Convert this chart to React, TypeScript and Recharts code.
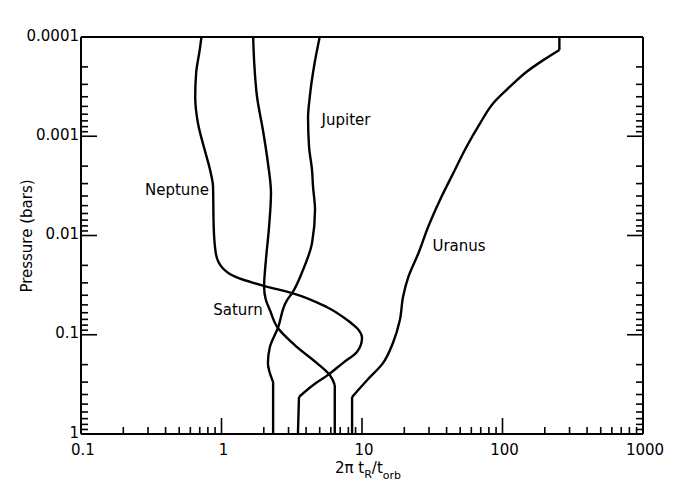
import React from 'react';
import { ScatterChart, Scatter, XAxis, YAxis } from 'recharts';

// [2π tR/torb, pressure in bars], read top (low pressure) to bottom
const neptune: [number, number][] = [
  [0.72, 1e-4], [0.7, 1.35e-4], [0.66, 2.3e-4], [0.65, 4.0e-4], [0.68, 7.4e-4],
  [0.76, 1.38e-3], [0.83, 2.2e-3], [0.87, 3.2e-3], [0.88, 8.2e-3], [0.91, 0.015],
  [1.01, 0.021], [1.25, 0.026], [1.97, 0.032], [3.18, 0.038], [5.6, 0.0525],
  [8.2, 0.0745], [9.2, 0.0855], [10.0, 0.108], [9.8, 0.127], [9.2, 0.149],
  [7.3, 0.193], [5.7, 0.255], [4.5, 0.321], [3.56, 0.424], [3.5, 1],
];

const saturn: [number, number][] = [
  [1.68, 1e-4], [1.71, 1.83e-4], [1.79, 4.0e-4], [1.97, 8.6e-4], [2.14, 1.86e-3],
  [2.25, 3.7e-3], [2.18, 8.2e-3], [2.07, 0.0177], [2.01, 0.033], [2.07, 0.0447],
  [2.21, 0.0564], [2.52, 0.0856], [3.45, 0.133], [4.78, 0.193], [5.9, 0.255],
  [6.4, 0.321], [6.4, 1],
];

const jupiter: [number, number][] = [
  [5.0, 1e-4], [4.6, 1.83e-4], [4.25, 4.0e-4], [4.13, 6.5e-4], [4.2, 1.28e-3],
  [4.41, 2.2e-3], [4.48, 3.2e-3], [4.63, 5.5e-3], [4.41, 0.0119], [3.8, 0.0223],
  [3.18, 0.038], [2.93, 0.0447], [2.52, 0.0856], [2.21, 0.133], [2.14, 0.193],
  [2.33, 0.3], [2.33, 1],
];

const uranus: [number, number][] = [
  [254, 1e-4], [254, 1.35e-4], [195, 1.71e-4], [148.6, 2.24e-4], [113, 3.17e-4],
  [85.9, 4.65e-4], [69.2, 7.41e-4], [55.6, 1.27e-3], [44.6, 2.36e-3], [35.9, 4.38e-3],
  [29.6, 8.15e-3], [25.2, 0.0151], [21.4, 0.026], [19.6, 0.0414], [18.6, 0.071],
  [16.6, 0.121], [14.1, 0.193], [10.9, 0.286], [8.5, 0.424], [8.5, 1],
];

const xDecades = [0.1, 1, 10, 100, 1000];
const yDecades = [0.0001, 0.001, 0.01, 0.1, 1];

const withMinor = (decades: number[]) => {
  const out: number[] = [];
  decades.forEach((d, i) => {
    out.push(d);
    if (i < decades.length - 1) {
      for (let m = 2; m <= 9; m++) out.push(+(d * m).toPrecision(6));
    }
  });
  return out;
};

const xTicks = withMinor(xDecades);
const yTicks = withMinor(yDecades);

const isMajor = (v: number) => {
  const l = Math.log10(v);
  return Math.abs(l - Math.round(l)) < 1e-6;
};

const FONT = '"DejaVu Sans", sans-serif';
const MAJOR = 16;
const MINOR = 7;

const BottomTick = ({ x, y, payload }: any) => {
  const major = isMajor(payload.value);
  return (
    <g>
      <line x1={x} x2={x} y1={y} y2={y - (major ? MAJOR : MINOR)} stroke="#000" strokeWidth={1.6} />
      {major && (
        <text x={x + 2} y={y + 21} textAnchor="middle" fontSize={15} fontFamily={FONT} fill="#000">
          {String(payload.value)}
        </text>
      )}
    </g>
  );
};

const TopTick = ({ x, y, payload }: any) => {
  const major = isMajor(payload.value);
  return <line x1={x} x2={x} y1={y} y2={y + (major ? MAJOR : MINOR)} stroke="#000" strokeWidth={1.6} />;
};

const LeftTick = ({ x, y, payload }: any) => {
  const major = isMajor(payload.value);
  return (
    <g>
      <line x1={x} x2={x + (major ? MAJOR : MINOR)} y1={y} y2={y} stroke="#000" strokeWidth={1.6} />
      {major && (
        <text x={x - 2} y={y + 3.5} textAnchor="end" fontSize={15} fontFamily={FONT} fill="#000">
          {String(payload.value)}
        </text>
      )}
    </g>
  );
};

const RightTick = ({ x, y, payload }: any) => {
  const major = isMajor(payload.value);
  return <line x1={x} x2={x - (major ? MAJOR : MINOR)} y1={y} y2={y} stroke="#000" strokeWidth={1.6} />;
};

// sharp corners (index into the curve) where the smooth line breaks
const curves = [
  { name: 'Neptune', data: neptune, corners: [23] },
  { name: 'Saturn', data: saturn, corners: [15] },
  { name: 'Jupiter', data: jupiter, corners: [15] },
  { name: 'Uranus', data: uranus, corners: [1, 18] },
];

const splitAt = (arr: [number, number][], corners: number[]) => {
  const cuts = [0, ...corners, arr.length - 1];
  const parts: { x: number; y: number }[][] = [];
  for (let i = 0; i < cuts.length - 1; i++) {
    parts.push(arr.slice(cuts[i], cuts[i + 1] + 1).map(([x, y]) => ({ x, y })));
  }
  return parts;
};

const noDot = () => <g />;

const App: React.FC = () => {
  const axisLine = { stroke: '#000', strokeWidth: 2 };
  return (
    <div style={{ position: 'absolute', left: 0, top: 0, width: 675, height: 498, background: '#fff' }}>
      <ScatterChart width={675} height={498} margin={{ top: 36, right: 31, bottom: 63, left: 80 }}>
        <XAxis
          dataKey="x"
          type="number"
          scale="log"
          domain={[0.1, 1000]}
          allowDataOverflow
          ticks={xTicks}
          interval={0}
          tickSize={0}
          tickMargin={0}
          height={1}
          axisLine={axisLine}
          tick={<BottomTick />}
        />
        <XAxis
          xAxisId="top"
          orientation="top"
          type="number"
          scale="log"
          domain={[0.1, 1000]}
          allowDataOverflow
          ticks={xTicks}
          interval={0}
          tickSize={0}
          tickMargin={0}
          height={1}
          axisLine={axisLine}
          tick={<TopTick />}
        />
        <YAxis
          dataKey="y"
          type="number"
          scale="log"
          domain={[0.0001, 1]}
          allowDataOverflow
          reversed
          ticks={yTicks}
          interval={0}
          tickSize={0}
          tickMargin={0}
          width={1}
          axisLine={axisLine}
          tick={<LeftTick />}
        />
        <YAxis
          yAxisId="right"
          orientation="right"
          type="number"
          scale="log"
          domain={[0.0001, 1]}
          allowDataOverflow
          reversed
          ticks={yTicks}
          interval={0}
          tickSize={0}
          tickMargin={0}
          width={1}
          axisLine={axisLine}
          tick={<RightTick />}
        />
        {curves.flatMap((c) =>
          splitAt(c.data, c.corners).map((part, i) => (
            <Scatter
              key={`${c.name}-${i}`}
              name={c.name}
              data={part}
              line={{ stroke: '#000', strokeWidth: 2.4 }}
              lineJointType={part.length > 2 ? 'monotoneY' : 'linear'}
              shape={noDot}
              isAnimationActive={false}
            />
          ))
        )}
      </ScatterChart>
      <svg
        width={675}
        height={498}
        style={{ position: 'absolute', left: 0, top: 0, pointerEvents: 'none' }}
        fontFamily={FONT}
        fill="#000"
      >
        <text x={177} y={195} textAnchor="middle" fontSize={15}>Neptune</text>
        <text x={346} y={125} textAnchor="middle" fontSize={15}>Jupiter</text>
        <text x={459} y={251} textAnchor="middle" fontSize={15}>Uranus</text>
        <text x={238} y={315} textAnchor="middle" fontSize={15}>Saturn</text>
        <text x={0} y={0} transform="translate(32, 236) rotate(-90)" textAnchor="middle" fontSize={15}>
          Pressure (bars)
        </text>
        <text x={368} y={473} textAnchor="middle" fontSize={15}>
          2π t<tspan dy={5} fontSize={11}>R</tspan>
          <tspan dy={-5}>/t</tspan>
          <tspan dy={6} fontSize={11}>orb</tspan>
        </text>
      </svg>
    </div>
  );
};

export default App;
